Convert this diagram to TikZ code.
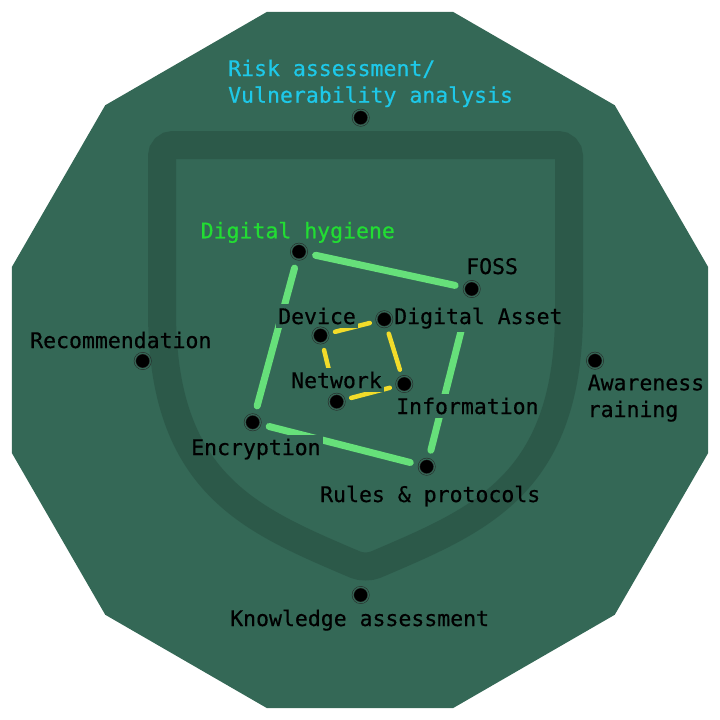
\documentclass[tikz,border=0pt]{standalone}
\usepackage{fontspec}
\newfontfamily\dmono[FakeBold=0.5]{DejaVu Sans Mono}
\definecolor{bgc}{HTML}{346856}
\definecolor{cyantxt}{HTML}{1EC8E8}
\definecolor{greentxt}{HTML}{22DD33}
\definecolor{gline}{HTML}{66E07A}
\definecolor{yline}{HTML}{F2DC2A}
\pgfdeclarelayer{bgl}
\pgfdeclarelayer{linel}
\pgfdeclarelayer{topl}
\pgfsetlayers{bgl,linel,main,topl}
\begin{document}
\begin{tikzpicture}[x=1pt,y=-1pt,
  lbl/.style={font=\dmono\fontsize{21.5}{26.7}\selectfont, text=black, inner xsep=2.5pt, inner ysep=3.5pt, anchor=base west, align=left},
  mask/.style={fill=bgc},
  dot/.style={circle, fill=black, draw=black!85, line width=0.5pt, double=bgc, double distance=1.2pt, minimum size=15.5pt, inner sep=0pt},
  gl/.style={draw=gline, line width=7pt, line cap=round, shorten <=9pt, shorten >=9pt},
  yl/.style={draw=yline, line width=4.5pt, line cap=round, shorten <=7pt, shorten >=7pt}]
\useasboundingbox (0,0) rectangle (720,720);
\begin{pgfonlayer}{bgl}
  \fill[bgc, shift={(360,360)}] (15:360.28)
    \foreach \k in {1,...,11} { -- (15+30*\k:360.28) } -- cycle;
\end{pgfonlayer}
\begin{pgfonlayer}{topl}
  \draw[black, opacity=0.14, line width=28pt, line join=miter, rounded corners=11pt]
    (365.5,145) -- (569,145) -- (569,300)
    .. controls (569,485) and (480,520) .. (365.5,569)
    .. controls (251,520) and (162,485) .. (162,300)
    -- (162,145) -- cycle;
\end{pgfonlayer}
% labels
\node[lbl, text=cyantxt] (trisk) at (225.5,102.7) {Risk assessment/\\Vulnerability analysis};
\node[lbl, text=greentxt] (thyg) at (198,238.3) {Digital hygiene};
\node[lbl] (tfoss) at (463.5,274) {FOSS};
\node[lbl, mask] (tdev) at (275.5,324) {Device};
\node[lbl, mask] (tda) at (391.5,324) {Digital Asset};
\node[lbl] (trec) at (27.5,348) {Recommendation};
\node[lbl] (taw) at (585,417) {Awareness\\raining};
\node[lbl, mask] (tnet) at (288.5,388) {Network};
\node[lbl, mask] (tinf) at (393.5,414) {Information};
\node[lbl, mask] (tenc) at (188.5,455) {Encryption};
\node[lbl] (trul) at (317.5,502) {Rules \& protocols};
\node[lbl] (tkno) at (227.5,626) {Knowledge assessment};
% dots
\node[dot] (risk) at (360.7,117.7) {};
\node[dot] (hyg) at (299,251.7) {};
\node[dot] (foss) at (471.7,289) {};
\node[dot] (da) at (384.3,319.3) {};
\node[dot] (dev) at (320.5,335.5) {};
\node[dot] (inf) at (404.3,384) {};
\node[dot] (net) at (336.7,401.7) {};
\node[dot] (enc) at (252.7,422.3) {};
\node[dot] (rul) at (426.7,466.7) {};
\node[dot] (rec) at (142.7,361) {};
\node[dot] (aw) at (595,360.7) {};
\node[dot] (kno) at (360.7,595) {};
\begin{pgfonlayer}{linel}
  \draw[gl] (hyg) -- (foss);
  \draw[gl, shorten <=16pt] (foss) -- (rul);
  \draw[gl] (rul) -- (enc);
  \draw[gl] (enc) -- (hyg);
  \draw[yl] (dev) -- (da);
  \draw[yl] (da) -- (inf);
  \draw[yl] (inf) -- (net);
  \draw[yl] (net) -- (dev);
\end{pgfonlayer}
\end{tikzpicture}
\end{document}
